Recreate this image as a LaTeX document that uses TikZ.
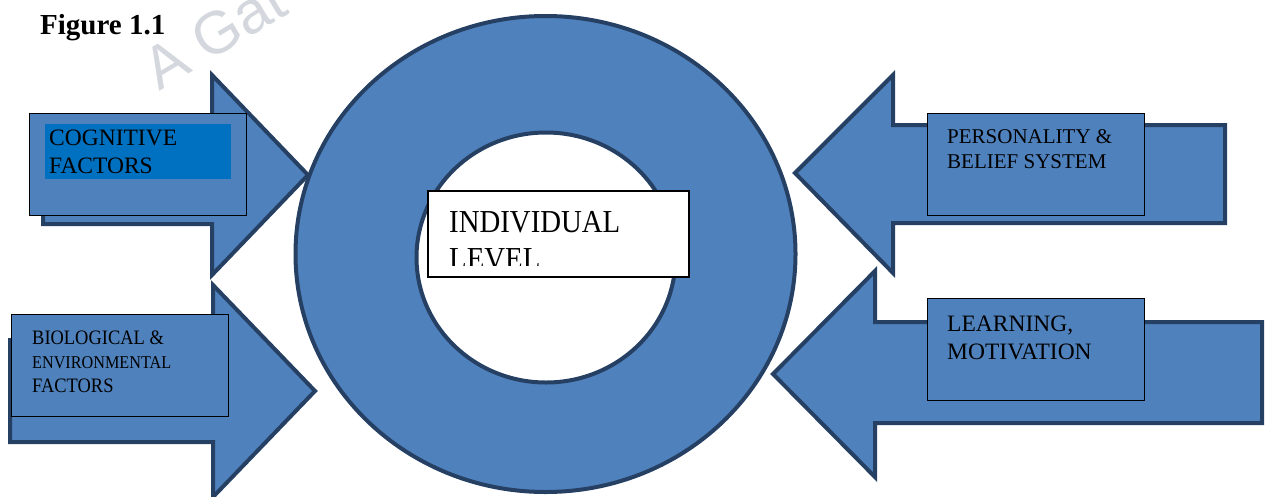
\documentclass[tikz,border=0pt]{standalone}
\usepackage{fontspec}
\setmainfont{Liberation Serif}
\newfontfamily\camfont[FakeStretch=0.9]{Liberation Serif}
\newfontfamily\wmfont{Liberation Sans}
\definecolor{fillblue}{RGB}{79,129,189}
\definecolor{edgeblue}{RGB}{38,64,100}
\definecolor{hiblue}{RGB}{0,112,192}
\definecolor{wmgray}{RGB}{212,216,222}
\tikzset{
  ringpart/.style={fill=fillblue, draw=edgeblue, line width=4pt},
  bigarrow/.style={fill=fillblue, draw=edgeblue, line width=4pt, line join=miter},
  labelbox/.style={draw=black, fill=fillblue, line width=1.3pt, rectangle, inner sep=0pt, anchor=north west},
  txt/.style={anchor=base west, inner sep=0pt, text=black}
}
\begin{document}
\begin{tikzpicture}[x=1pt,y=-1pt]
\useasboundingbox (0,0) rectangle (1266,496);
\begin{scope}
\clip (0,0) rectangle (1266,496);
% watermark
\node[txt, rotate=31, text=wmgray, font=\wmfont\fontsize{60}{66}\selectfont] (wm) at (159,92) {A Gat};
% ring
\path[ringpart] (545.5,254) ellipse [x radius=250, y radius=238];
\path[fill=white, draw=edgeblue, line width=4pt] (546,257.5) ellipse [x radius=129.5, y radius=125];
\end{scope}
% arrows
\path[bigarrow] (43,124) -- (212,124) -- (212,75) -- (308,175) -- (212,275) -- (212,224) -- (43,224) -- cycle;
\path[bigarrow] (10,340) -- (213,340) -- (213,285) -- (315,391) -- (213,497) -- (213,442) -- (10,442) -- cycle;
\path[bigarrow] (1225,125) -- (893,125) -- (893,75) -- (795,173) -- (893,273) -- (893,223) -- (1225,223) -- cycle;
\path[bigarrow] (1262,322) -- (875,322) -- (875,271) -- (773,374) -- (875,477) -- (875,423) -- (1262,423) -- cycle;
% title
\node[txt, font=\bfseries\fontsize{29}{34}\selectfont] (title) at (40,34) {Figure 1.1};
% cognitive
\node[labelbox, minimum width=217pt, minimum height=102pt] (cogbox) at (29,113) {};
\node[anchor=north west, fill=hiblue, inner sep=0pt, minimum width=186pt, minimum height=55pt] (coghi) at (45,124) {};
\node[txt, font=\fontsize{23.5}{28}\selectfont] (cog1) at (49,145) {COGNITIVE};
\node[txt, font=\fontsize{23.5}{28}\selectfont] (cog2) at (49,173) {FACTORS};
% biological
\node[labelbox, minimum width=217pt, minimum height=102pt] (biobox) at (11,314) {};
\node[txt, font=\camfont\fontsize{20.5}{24}\selectfont] (bio1) at (32,344) {BIOLOGICAL \&};
\node[txt, font=\camfont\fontsize{18}{24}\selectfont] (bio2) at (32,368) {ENVIRONMENTAL};
\node[txt, font=\camfont\fontsize{20.5}{24}\selectfont] (bio3) at (32,392) {FACTORS};
% personality
\node[labelbox, minimum width=217pt, minimum height=102pt] (perbox) at (927,113) {};
\node[txt, font=\fontsize{21}{25}\selectfont] (per1) at (947,143) {PERSONALITY \&};
\node[txt, font=\fontsize{21}{25}\selectfont] (per2) at (947,168) {BELIEF SYSTEM};
% learning
\node[labelbox, minimum width=217pt, minimum height=102pt] (lrnbox) at (927,298) {};
\node[txt, font=\fontsize{23.5}{28}\selectfont] (lrn1) at (947,331) {LEARNING,};
\node[txt, font=\fontsize{23.5}{28}\selectfont] (lrn2) at (947,359) {MOTIVATION};
% individual level
\node[draw=black, fill=white, line width=2pt, rectangle, inner sep=0pt, anchor=north west, minimum width=261pt, minimum height=86pt] (indbox) at (427,190) {};
\begin{scope}
\clip (428,191) rectangle (687,265.5);
\node[txt, font=\camfont\fontsize{32}{36}\selectfont] (ind1) at (449,232) {INDIVIDUAL};
\node[txt, font=\camfont\fontsize{32}{36}\selectfont] (ind2) at (449,269) {LEVEL};
\end{scope}
\end{tikzpicture}
\end{document}
